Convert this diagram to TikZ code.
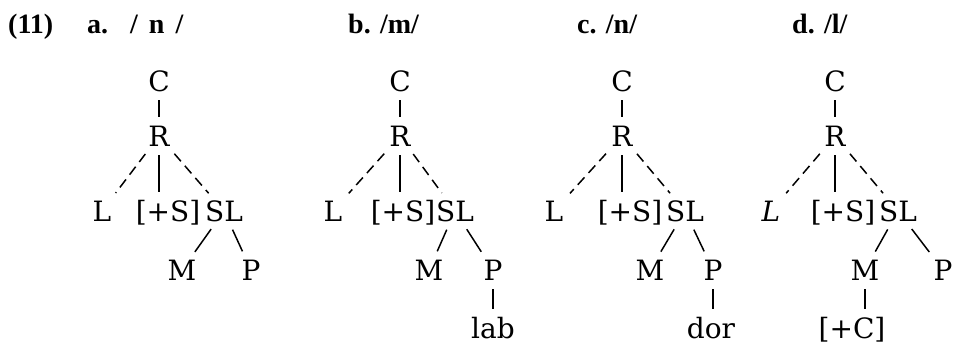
\documentclass[tikz,border=0pt]{standalone}
\usepackage{fontspec}
\setmainfont{DejaVu Serif}
\newfontfamily\titrefont{Liberation Serif}
\begin{document}
\begin{tikzpicture}[x=1pt,y=-1pt]
	\tikzstyle{noeud}=[font=\fontsize{28}{30}\selectfont,text height=20pt,text depth=0pt,inner sep=3pt,anchor=base]
	\tikzstyle{titre}=[font=\titrefont\bfseries\fontsize{28}{30}\selectfont,inner sep=0pt,anchor=base west]
	\tikzstyle{trait}=[line width=1.5pt,shorten <=6pt,shorten >=6pt]
	\tikzstyle{pointille}=[trait,dash pattern=on 10pt off 6pt]
	\def\NiveauTitre{34}
	\def\NiveauC{91}
	\def\NiveauR{146}
	\def\NiveauL{221}
	\def\NiveauM{280}
	\def\NiveauBas{338}
	\useasboundingbox (0,0) rectangle (956,348);
	% titres
	\node[titre] (num) at (8,\NiveauTitre) {(11)};
	\node[titre] (titreA) at (87,\NiveauTitre) {a.};
	\node[titre] (phonA) at (130,\NiveauTitre) {/\hspace{11pt}n\hspace{11pt}/};
	\node[titre] (titreB) at (348,\NiveauTitre) {b. /m/};
	\node[titre] (titreC) at (577,\NiveauTitre) {c. /n/};
	\node[titre] (titreD) at (792,\NiveauTitre) {d. /l/};
	% arbre a
	\node[noeud] (Ca) at (159,\NiveauC) {C};
	\node[noeud] (Ra) at (159,\NiveauR) {R};
	\node[noeud] (La) at (102,\NiveauL) {L};
	\node[noeud] (Sa) at (168,\NiveauL) {[+S]};
	\node[noeud] (SLa) at (224,\NiveauL) {SL};
	\node[noeud] (Ma) at (182,\NiveauM) {M};
	\node[noeud] (Pa) at (251,\NiveauM) {P};
	\draw[trait] (Ca)--(Ra);
	\draw[pointille] (Ra)--(La);
	\draw[trait] (Ra)--(Ra |- Sa.north);
	\draw[pointille] (Ra)--(SLa);
	\draw[trait] (SLa)--(Ma);
	\draw[trait] (SLa)--(Pa);
	% arbre b
	\node[noeud] (Cb) at (400,\NiveauC) {C};
	\node[noeud] (Rb) at (400,\NiveauR) {R};
	\node[noeud] (Lb) at (333,\NiveauL) {L};
	\node[noeud] (Sb) at (403,\NiveauL) {[+S]};
	\node[noeud] (SLb) at (455,\NiveauL) {SL};
	\node[noeud] (Mb) at (429,\NiveauM) {M};
	\node[noeud] (Pb) at (493,\NiveauM) {P};
	\node[noeud] (lab) at (493,\NiveauBas) {lab};
	\draw[trait] (Cb)--(Rb);
	\draw[pointille] (Rb)--(Lb);
	\draw[trait] (Rb)--(Rb |- Sb.north);
	\draw[pointille] (Rb)--(SLb);
	\draw[trait] (SLb)--(Mb);
	\draw[trait] (SLb)--(Pb);
	\draw[trait] (Pb)--(lab);
	% arbre c
	\node[noeud] (Cc) at (622,\NiveauC) {C};
	\node[noeud] (Rc) at (622,\NiveauR) {R};
	\node[noeud] (Lc) at (554,\NiveauL) {L};
	\node[noeud] (Sc) at (630,\NiveauL) {[+S]};
	\node[noeud] (SLc) at (685,\NiveauL) {SL};
	\node[noeud] (Mc) at (650,\NiveauM) {M};
	\node[noeud] (Pc) at (713,\NiveauM) {P};
	\node[noeud] (dor) at (711,\NiveauBas) {dor};
	\draw[trait] (Cc)--(Rc);
	\draw[pointille] (Rc)--(Lc);
	\draw[trait] (Rc)--(Rc |- Sc.north);
	\draw[pointille] (Rc)--(SLc);
	\draw[trait] (SLc)--(Mc);
	\draw[trait] (SLc)--(Pc);
	\draw[trait] (Pc)--(Pc |- dor.north);
	% arbre d
	\node[noeud] (Cd) at (835,\NiveauC) {C};
	\node[noeud] (Rd) at (835,\NiveauR) {R};
	\node[noeud] (Ld) at (771,\NiveauL) {\itshape L};
	\node[noeud] (Sd) at (843,\NiveauL) {[+S]};
	\node[noeud] (SLd) at (898,\NiveauL) {SL};
	\node[noeud] (Md) at (865,\NiveauM) {M};
	\node[noeud] (Pd) at (943,\NiveauM) {P};
	\node[noeud] (plusC) at (852,\NiveauBas) {[+C]};
	\draw[trait] (Cd)--(Rd);
	\draw[pointille] (Rd)--(Ld);
	\draw[trait] (Rd)--(Rd |- Sd.north);
	\draw[pointille] (Rd)--(SLd);
	\draw[trait] (SLd)--(Md);
	\draw[trait] (SLd)--(Pd);
	\draw[trait] (Md)--(Md |- plusC.north);
\end{tikzpicture}
\end{document}
